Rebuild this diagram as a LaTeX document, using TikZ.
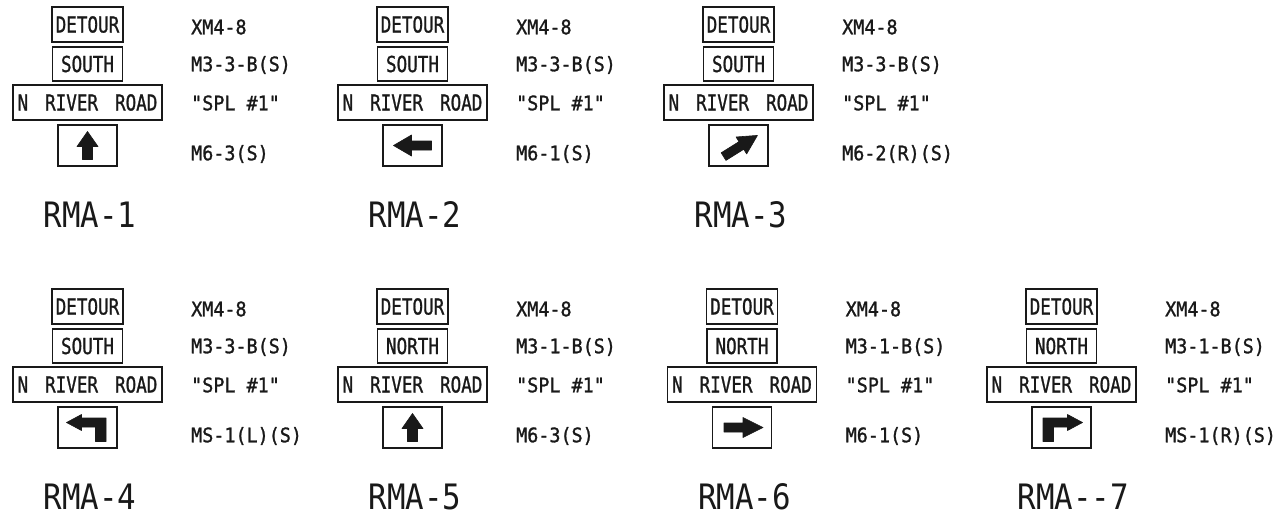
\documentclass[tikz,border=0pt]{standalone}
\usepackage{fontspec}
\newfontfamily\signfont{DejaVu Sans Mono}[FakeStretch=0.8, WordSpace=1.6, FakeBold=1]
\newfontfamily\codefont{DejaVu Sans Mono}[FakeStretch=0.92, FakeBold=1.2]
\newfontfamily\rmafont{DejaVu Sans Mono}[FakeStretch=0.88]
\definecolor{ink}{gray}{0.1}
\tikzset{
  signbox/.style={draw=ink, line width=1.7pt, inner sep=0pt, text height=16pt, text depth=0pt,
    font=\signfont\fontsize{22}{22}\selectfont, text=ink},
  codelabel/.style={anchor=west, inner sep=0pt, text height=14.5pt, text depth=0pt,
    font=\codefont\fontsize{20}{20}\selectfont, text=ink},
  rmalabel/.style={anchor=west, inner sep=0pt, text height=25.5pt, text depth=0pt,
    font=\rmafont\fontsize{35}{35}\selectfont, text=ink},
  arrowfill/.style={fill=ink, draw=ink, line width=0.6pt, line join=round}
}
% #1 id, #2 cx, #3 dy, #4 direction word, #5 M3 code, #6 M6 code, #7 arrow options, #8 arrow path, #9 RMA text
\newcommand\signset[9]{%
  \begin{scope}[shift={(#2,#3)}]
    \node[signbox, minimum width=71pt, minimum height=35pt] (#1det) at (0,24.5) {DETOUR};
    \node[signbox, minimum width=70pt, minimum height=34pt] (#1dir) at (0,64) {#4};
    \node[signbox, minimum width=149pt, minimum height=35pt] (#1road) at (0,102.5) {N RIVER ROAD};
    \node[signbox, minimum width=59pt, minimum height=41pt] (#1arr) at (0,145.5) {};
    \fill[arrowfill, shift={(#1arr.center)}, #7] #8;
    \node[codelabel] (#1ca) at (103.5,27) {XM4-8};
    \node[codelabel] (#1cb) at (103.5,64) {#5};
    \node[codelabel] (#1cc) at (103.5,103) {"SPL \#1"};
    \node[codelabel] (#1cd) at (103.5,153) {#6};
    \node[rmalabel] (#1rma) at (-44,215) {#9};
  \end{scope}}
\begin{document}
\begin{tikzpicture}[x=1pt, y=-1pt]
  \useasboundingbox[fill=white] (0,0) rectangle (1280,528);
  % row 1
  \signset{a}{87.5}{0}{SOUTH}{M3-3-B(S)}{M6-3(S)}{}
    {(0,-14) -- (10.5,1) -- (5,1) -- (5,14) -- (-5,14) -- (-5,1) -- (-10.5,1) -- cycle}{RMA-1}
  \signset{b}{412.5}{0}{SOUTH}{M3-3-B(S)}{M6-1(S)}{}
    {(-19,0) -- (-1,-10.5) -- (-1,-4.5) -- (19,-4.5) -- (19,4.5) -- (-1,4.5) -- (-1,10.5) -- cycle}{RMA-2}
  \signset{c}{738.5}{0}{SOUTH}{M3-3-B(S)}{M6-2(R)(S)}{shift={(2,0.5)}, rotate=32}
    {(20,0) -- (1,-10) -- (1,-4.5) -- (-20,-4.5) -- (-20,4.5) -- (1,4.5) -- (1,10) -- cycle}{RMA-3}
  % row 2
  \signset{d}{87.5}{282}{SOUTH}{M3-3-B(S)}{MS-1(L)(S)}{}
    {(-21,-5) -- (-6,-13) -- (-6,-9.5) -- (18.5,-9.5) -- (18.5,14) -- (8,14) -- (8,-0.5) -- (-6,-0.5) -- (-6,3) -- cycle}{RMA-4}
  \signset{e}{412.5}{282}{NORTH}{M3-1-B(S)}{M6-3(S)}{}
    {(0,-14) -- (10.5,1) -- (5,1) -- (5,14) -- (-5,14) -- (-5,1) -- (-10.5,1) -- cycle}{RMA-5}
  \signset{f}{742}{282}{NORTH}{M3-1-B(S)}{M6-1(S)}{}
    {(21,0) -- (1,-10) -- (1,-4.5) -- (-18,-4.5) -- (-18,4.5) -- (1,4.5) -- (1,10) -- cycle}{RMA-6}
  \signset{g}{1061.5}{282}{NORTH}{M3-1-B(S)}{MS-1(R)(S)}{}
    {(21,-5) -- (6,-13) -- (6,-9.5) -- (-18.5,-9.5) -- (-18.5,14) -- (-8,14) -- (-8,-0.5) -- (6,-0.5) -- (6,3) -- cycle}{RMA-{}-7}
\end{tikzpicture}
\end{document}
